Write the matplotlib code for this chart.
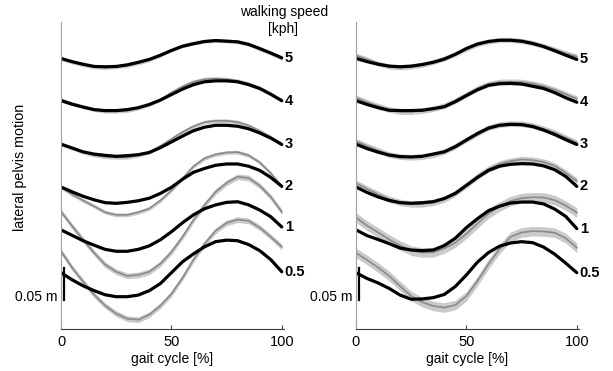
import matplotlib.pyplot as plt
import numpy as np

plt.rcParams['font.family'] = ['Liberation Sans', 'DejaVu Sans']

# walking speeds [kph], stacked from bottom to top
speeds = ['0.5', '1', '2', '3', '4', '5']
offsets_mm = [88, 155, 222, 289, 357, 423]
gait_pct = np.arange(0, 101, 5)

# left panel: lateral pelvis displacement [mm], black = model, grey = measured
L_sim_05 = [0, -11, -20.5, -28, -34.5, -37.5, -37.5, -35, -28, -17, 0, 17, 29.5, 40.5, 48.5, 51, 50, 44, 34.5, 20.5, 1.5]
L_exp_05 = [33.5, 8, -14, -34.5, -51.5, -64, -72, -73.5, -65.5, -51.5, -33, -8, 20.5, 45.5, 65.5, 78, 83, 81, 70.5, 56, 40.5]
L_sim_1 = [0, -8.5, -17, -24, -30.5, -33.5, -33.5, -30.5, -25, -15.5, -3, 11, 23.5, 33, 39, 43, 44, 39, 31, 20.5, 4.5]
L_exp_1 = [28.5, 6, -15.5, -36, -54.5, -65.5, -72, -70.5, -65.5, -53, -34.5, -11, 15.5, 39, 59.5, 73.5, 83, 81, 69, 51.5, 28]
L_sim_2 = [0, -7.5, -14.5, -20, -24.5, -25.5, -24, -21.5, -17.5, -10, -0.5, 12, 23, 29, 34, 36, 36, 32.5, 26, 15, 1]
L_exp_2 = [0, -11.5, -21, -30, -39.5, -43.5, -43.5, -39.5, -33.5, -21, -5, 13.5, 32.5, 45, 51, 54, 54.5, 49.5, 38.5, 21.5, 1]
L_sim_3 = [0, -6, -12, -15.5, -17.5, -19, -18, -16.5, -13, -5.5, 3.5, 12.5, 21, 26.5, 29.5, 29.5, 28, 24, 17.5, 9.5, -0.5]
L_exp_3 = [0, -6, -12.5, -17, -19.5, -20.5, -20.5, -17, -12.5, -3, 8, 19, 28, 34.5, 36.5, 36.5, 34.5, 29, 20.5, 11, 0]
L_sim_4 = [0, -5.5, -10, -14, -15.5, -15.5, -14, -11, -6, 1, 9.5, 18, 25, 29.5, 31, 31, 29.5, 25, 19, 10, 0]
L_exp_4 = [1.5, -4.5, -9.5, -14, -16.5, -16.5, -15.5, -11.5, -6, 1.5, 12.5, 22, 29.5, 33.5, 34.5, 33.5, 31, 26.5, 20, 11, 0]
L_sim_5 = [0, -5, -9, -12.5, -13, -12.5, -10, -6, -1.5, 5, 12.5, 19, 23, 26.5, 28, 27, 26, 22, 15.5, 8.5, 1]
L_exp_5 = [0, -5.5, -10, -13, -14, -13, -11, -7, -2, 5, 13, 20, 24, 27, 28, 27.5, 26, 22, 15, 8, 0]
L_sd = [4.5, 4.5, 3, 3, 3, 3]

# right panel
R_sim_05 = [0, -9, -16, -24.5, -35, -41.5, -41, -39, -34, -21.5, -3.5, 16.5, 31.5, 41.5, 46.5, 48.5, 47, 40, 29, 15, 0]
R_exp_05 = [31, 20, 8, -5, -21, -36.5, -46, -52, -54.5, -50.5, -36.5, -13, 13.5, 37, 56, 63, 65, 64.5, 62.5, 54, 39]
R_sim_1 = [0, -9, -15, -21.5, -28.5, -31.5, -32.5, -31.5, -24.5, -13, 3.5, 17.5, 30, 37, 42, 43.5, 43.5, 40.5, 32.5, 21, 2]
R_exp_1 = [19.5, 6.5, -4, -15, -24.5, -32.5, -35.5, -35, -29, -20, -6, 10, 25.5, 36.5, 45, 49.5, 51, 50.5, 46.5, 38, 27]
R_sim_2 = [0, -8.5, -15.5, -21, -24.5, -25.5, -24.5, -23, -18, -10, 2.5, 15, 26, 32.5, 35.5, 36.5, 36, 33, 27, 16.5, 1]
R_exp_2 = [6, -3, -11.5, -19, -24, -26.5, -26.5, -24, -19, -9.5, 3, 16.5, 28, 36, 40.5, 43, 42, 39, 33, 22, 9.5]
R_sim_3 = [0, -7, -12.5, -17, -19.5, -20, -19, -15.5, -12, -4, 6.5, 16.5, 25, 29.5, 31, 30.5, 27.5, 22, 15, 7, -0.5]
R_exp_3 = [4.5, -3, -10, -16.5, -19.5, -20.5, -19.5, -16.5, -11.5, -3, 7, 17, 26, 30.5, 32, 32, 29, 24, 18, 10, 2.5]
R_sim_4 = [0, -6, -11, -15, -15.5, -15.5, -15, -12.5, -9.5, -1.5, 8, 17, 24, 26.5, 27, 26, 22.5, 19, 12.5, 4.5, -2.5]
R_exp_4 = [4.5, -2.5, -8.5, -14, -17, -17, -15.5, -12.5, -8, 0, 9.5, 19, 26, 29, 29.5, 29, 26.5, 22.5, 17, 10, 3]
R_sim_5 = [0, -5, -9, -12, -13, -12, -9.5, -6, -1, 6.5, 15.5, 22.5, 26.5, 28.5, 28.5, 27, 23.5, 18.5, 12, 5, -1.5]
R_exp_5 = [4.5, -1.5, -8, -12.5, -14, -12.5, -10, -5.5, 0, 7, 15.5, 22.5, 26.5, 29, 29, 27.5, 24, 19.5, 14, 8, 3]
R_sd = [7.5, 7.5, 5, 4.5, 4.5, 4]

left_sim = [L_sim_05, L_sim_1, L_sim_2, L_sim_3, L_sim_4, L_sim_5]
left_exp = [L_exp_05, L_exp_1, L_exp_2, L_exp_3, L_exp_4, L_exp_5]
right_sim = [R_sim_05, R_sim_1, R_sim_2, R_sim_3, R_sim_4, R_sim_5]
right_exp = [R_exp_05, R_exp_1, R_exp_2, R_exp_3, R_exp_4, R_exp_5]


def draw_panel(ax, sim, exp, sd):
    for off, s, e, w, lab in zip(offsets_mm, sim, exp, sd, speeds):
        s = np.array(s) + off
        e = np.array(e) + off
        ax.fill_between(gait_pct, e - w, e + w, color='#cacaca', lw=0)
        ax.plot(gait_pct, e, color='#8a8a8a', lw=1.2)
        ax.plot(gait_pct, s, color='black', lw=2.3, solid_capstyle='round')
        ax.text(101.3, s[-1], lab, fontsize=10.5, fontweight='bold', ha='left', va='center')

    # 0.05 m scale bar
    ax.plot([1.5, 1.5], [45, 95], color='black', lw=1.6)
    ax.text(-1.5, 50, '0.05 m', fontsize=10, ha='right', va='center')

    ax.set_xlim(0, 101)
    ax.set_ylim(0, 480)
    ax.set_xticks([0, 50, 100])
    ax.set_yticks([])
    ax.tick_params(axis='x', direction='in', length=3, pad=4.5, labelsize=10.5, color='#404040')
    ax.spines['top'].set_visible(False)
    ax.spines['right'].set_visible(False)
    ax.spines['left'].set_color('#a0a0a0')
    ax.spines['bottom'].set_color('#404040')
    ax.set_xlabel('gait cycle [%]', fontsize=10, labelpad=2)


fig = plt.figure(figsize=(6.13, 3.71), dpi=100)
ax1 = fig.add_axes([61 / 613, 42 / 371, 223 / 613, 307 / 371])
ax2 = fig.add_axes([356 / 613, 42 / 371, 223 / 613, 307 / 371])

draw_panel(ax1, left_sim, left_exp, L_sd)
draw_panel(ax2, right_sim, right_exp, R_sd)

fig.text(20 / 613, 1 - 167 / 371, 'lateral pelvis motion', rotation=90,
         fontsize=10.3, ha='center', va='center')
fig.text(284 / 613, 1 - 12 / 371, 'walking speed', fontsize=10, ha='center', va='center')
fig.text(283 / 613, 1 - 29 / 371, '[kph]', fontsize=10, ha='center', va='center')

fig.savefig('out.png', dpi=100)
